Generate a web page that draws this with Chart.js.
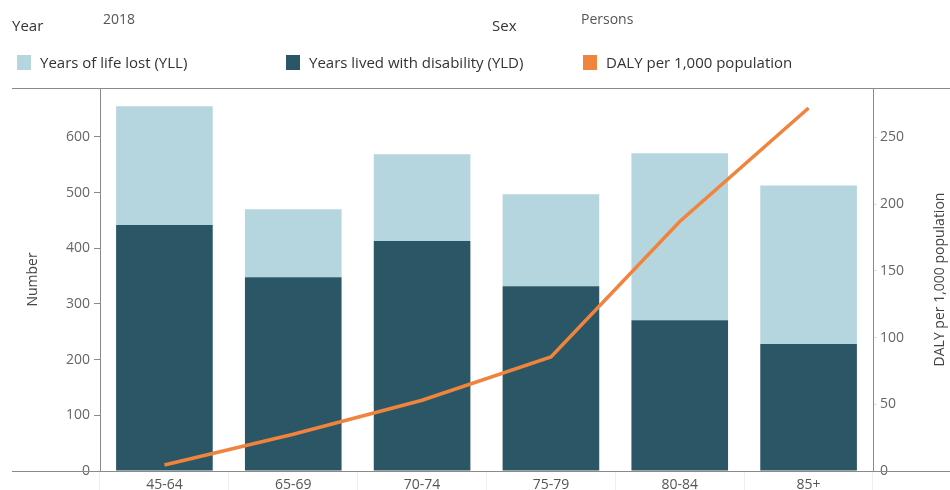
<!DOCTYPE html>
<html>
<head>
<meta charset="utf-8">
<script src="https://cdn.jsdelivr.net/npm/chart.js@4.4.1/dist/chart.umd.min.js"></script>
<style>
    body { margin: 0; background: #fff; font-family: "Open Sans", sans-serif; }
    #wrap { position: relative; width: 950px; height: 490px; overflow: hidden; }
    #chart { position: absolute; left: 0; top: 0; }
    .lbl { position: absolute; font-size: 15px; color: #333; white-space: nowrap; }
    .val { color: #555; font-size: 14px; }
    .sw { position: absolute; width: 14px; height: 15px; }
</style>
</head>
<body>
<div id="wrap">
    <canvas id="chart" width="950" height="490"></canvas>
    <div class="lbl" style="left:12px;top:15px;">Year</div>
    <div class="lbl val" style="left:103px;top:9px;">2018</div>
    <div class="lbl" style="left:492px;top:15px;">Sex</div>
    <div class="lbl val" style="left:581px;top:9px;">Persons</div>
    <div class="sw" style="left:17px;top:55px;background:#b5d5df;"></div>
    <div class="lbl" style="left:40px;top:52px;">Years of life lost (YLL)</div>
    <div class="sw" style="left:286px;top:55px;background:#2a5665;"></div>
    <div class="lbl" style="left:309px;top:52px;">Years lived with disability (YLD)</div>
    <div class="sw" style="left:583px;top:55px;background:#f0843c;"></div>
    <div class="lbl" style="left:606px;top:52px;">DALY per 1,000 population</div>
</div>
<script>
const ageGroups = ["45-64", "65-69", "70-74", "75-79", "80-84", "85+"];
const yldValues = [442, 348, 413, 332, 271, 228];
const yllValues = [213, 122, 156, 165, 300, 285];
const dalyRate = [4.5, 27.5, 53, 85.5, 187, 272];
const numberTicks = [0, 100, 200, 300, 400, 500, 600];
const rateTicks = [0, 50, 100, 150, 200, 250];
const rightTitle = "DALY per 1,000 population";

// extend the top and bottom frame lines past the plot area,
// and write the right axis title reading upwards
const frameLines = {
    id: "frameLines",
    afterDraw(chart) {
        const { ctx, chartArea } = chart;
        ctx.save();
        ctx.strokeStyle = "#8a8a8a";
        ctx.lineWidth = 1;
        ctx.beginPath();
        ctx.moveTo(12, chartArea.top + 0.5);
        ctx.lineTo(950, chartArea.top + 0.5);
        ctx.moveTo(12, chartArea.bottom + 0.5);
        ctx.lineTo(950, chartArea.bottom + 0.5);
        ctx.stroke();

        ctx.translate(chart.width - 10, (chartArea.top + chartArea.bottom) / 2);
        ctx.rotate(-Math.PI / 2);
        ctx.fillStyle = "#444";
        ctx.font = "14px 'Open Sans'";
        ctx.textAlign = "center";
        ctx.textBaseline = "middle";
        ctx.fillText(rightTitle, 0, 0);
        ctx.restore();
    }
};

function keepTicks(list) {
    return (axis) => { axis.ticks = list.map(v => ({ value: v })); };
}

const tickFont = { family: "Open Sans", size: 14 };

new Chart(document.getElementById("chart"), {
    data: {
        labels: ageGroups,
        datasets: [
            {
                type: "line",
                label: "DALY per 1,000 population",
                data: dalyRate,
                yAxisID: "y1",
                borderColor: "#f0843c",
                borderWidth: 3.5,
                pointRadius: 0,
                tension: 0,
                order: 0
            },
            {
                type: "bar",
                label: "Years lived with disability (YLD)",
                data: yldValues,
                yAxisID: "y",
                backgroundColor: "#2a5665",
                categoryPercentage: 1,
                barPercentage: 0.75,
                order: 1
            },
            {
                type: "bar",
                label: "Years of life lost (YLL)",
                data: yllValues,
                yAxisID: "y",
                backgroundColor: "#b5d5df",
                categoryPercentage: 1,
                barPercentage: 0.75,
                order: 1
            }
        ]
    },
    options: {
        responsive: false,
        animation: false,
        layout: { padding: { top: 88 } },
        plugins: { legend: { display: false }, tooltip: { enabled: false } },
        scales: {
            x: {
                stacked: true,
                afterFit: (s) => { s.height = 19; },
                grid: { drawOnChartArea: false, offset: true, tickLength: 19, color: "#eeeeee" },
                border: { color: "#8a8a8a" },
                ticks: { color: "#555", font: tickFont, padding: -13 }
            },
            y: {
                stacked: true,
                position: "left",
                min: 0,
                max: 688,
                afterBuildTicks: keepTicks(numberTicks),
                afterFit: (s) => { s.width = 100; },
                grid: { drawOnChartArea: false, tickLength: 6, color: "#8a8a8a" },
                border: { color: "#8a8a8a" },
                ticks: { color: "#666", font: tickFont, padding: 4 },
                title: { display: true, text: "Number", color: "#444", font: { family: "Open Sans", size: 14 }, padding: { top: 25, bottom: 0 } }
            },
            y1: {
                position: "right",
                min: 0,
                max: 287,
                afterBuildTicks: keepTicks(rateTicks),
                afterFit: (s) => { s.width = 77; },
                grid: { drawOnChartArea: false, tickLength: 4, color: "#e0e0e0" },
                border: { color: "#8a8a8a" },
                ticks: { color: "#666", font: tickFont, padding: 3 }
            }
        }
    },
    plugins: [frameLines]
});
</script>
</body>
</html>
